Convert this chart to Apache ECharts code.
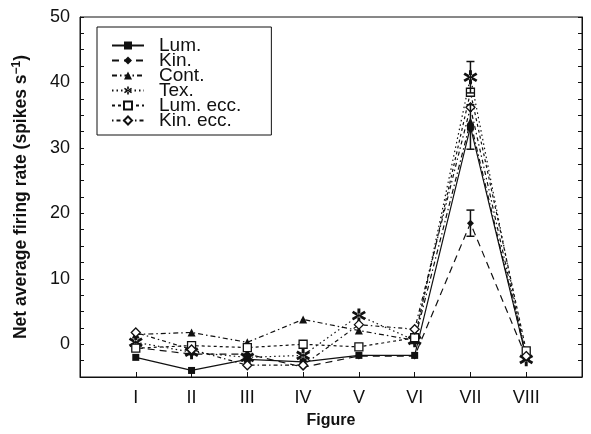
<!DOCTYPE html>
<html>
<head>
<meta charset="utf-8">
<script src="https://cdn.jsdelivr.net/npm/echarts@6/dist/echarts.min.js"></script>
<style>
  html, body { margin: 0; padding: 0; background: #fff; }
  #chart { width: 591px; height: 434px; }
</style>
</head>
<body>
<div id="chart"></div>
<script>
// figure positions 1..8 on the x axis
const figures = ['I', 'II', 'III', 'IV', 'V', 'VI', 'VII', 'VIII']

const lum = [-2.0, -4.0, -2.3, -2.7, -1.7, -1.7, 33.2, -2.0]
const kin = [-0.5, -1.5, -1.5, -3.5, -1.8, -1.8, 18.5, -2.0]
const cont = [1.5, 1.8, 0.3, 3.8, 2.1, 0.6, 34.0, -2.0]
const tex = [0.3, -1.2, -2.0, -1.7, 4.4, 0.6, 40.8, -2.3]
const lumEcc = [-0.6, -0.2, -0.5, 0.0, -0.4, 1.0, 38.5, -1.0]
const kinEcc = [1.8, -0.8, -3.2, -3.2, 3.0, 2.3, 36.2, -1.8]

// error bars at figure VII: [figure, low, high]
const errBars = [
  [7, 29.8, 36.6],
  [7, 38.4, 43.2],
  [7, 16.5, 20.5],
]

// asterisk marker (three bars)
const STAR =
  'path://M8 0L12 0L12 20L8 20Z M17.6 16.9L19.6 13.5L2.4 3.1L0.4 6.5Z M19.6 6.5L17.6 3.1L0.4 13.5L2.4 16.9Z'

function pts(arr) {
  return arr.map((v, i) => [i + 1, v])
}

function lineSeries(name, data, dash, symbol, size, filled) {
  return {
    name: name,
    type: 'line',
    data: pts(data),
    symbol: symbol,
    symbolSize: size,
    showAllSymbol: true,
    lineStyle: { color: '#111', width: 1.2, type: dash },
    itemStyle: {
      color: filled ? '#111' : '#fff',
      borderColor: '#111',
      borderWidth: filled ? 0 : 1.3,
    },
    z: 3,
  }
}

var myChart = echarts.init(document.getElementById('chart'))
var option = {
  animation: false,
  textStyle: { fontFamily: 'Liberation Sans, Arial, sans-serif', color: '#111' },
  grid: {
    left: 80,
    right: 9,
    top: 17,
    bottom: 54,
    show: true,
    borderColor: '#111',
    borderWidth: 1,
  },
  legend: {
    orient: 'vertical',
    left: 97,
    top: 27,
    padding: [9, 30, 5, 14],
    borderColor: '#111',
    borderWidth: 1,
    itemWidth: 32,
    itemHeight: 10,
    itemGap: -4,
    textStyle: {
      fontSize: 19,
      color: '#111',
      padding: [0, 0, 0, 10],
    },
    data: ['Lum.', 'Kin.', 'Cont.', 'Tex.', 'Lum. ecc.', 'Kin. ecc.'],
  },
  xAxis: {
    type: 'value',
    min: 0,
    max: 9,
    interval: 1,
    name: 'Figure',
    nameLocation: 'middle',
    nameGap: 36,
    nameTextStyle: { fontSize: 16, fontWeight: 'bold', color: '#111' },
    axisLine: { show: true, onZero: false, lineStyle: { color: '#111' } },
    axisTick: { show: true, inside: true, length: 5, lineStyle: { color: '#111' } },
    axisLabel: {
      fontSize: 18,
      color: '#111',
      margin: 12,
      formatter: (v) => figures[v - 1] || '',
    },
    splitLine: { show: false },
  },
  yAxis: [
    {
      type: 'value',
      min: -5,
      max: 50,
      interval: 5,
      name: 'Net average firing rate (spikes s{sup|−1})',
      nameLocation: 'middle',
      nameGap: 49,
      nameTextStyle: {
        fontSize: 17.5,
        fontWeight: 'bold',
        color: '#111',
        rich: { sup: { fontSize: 12, fontWeight: 'bold', verticalAlign: 'top', padding: [0, 0, 8, 0] } },
      },
      axisLine: { show: true, onZero: false, lineStyle: { color: '#111' } },
      axisTick: { show: true, inside: true, length: 4, lineStyle: { color: '#111' } },
      minorTick: { show: true, splitNumber: 2, length: 4, lineStyle: { color: '#111' } },
      axisLabel: {
        fontSize: 18,
        color: '#111',
        margin: 10,
        formatter: (v) => (v >= 0 && v % 10 === 0 ? String(v) : ''),
      },
      splitLine: { show: false },
    },
    {
      type: 'value',
      position: 'right',
      min: -5,
      max: 50,
      interval: 5,
      axisLine: { show: true, onZero: false, lineStyle: { color: '#111' } },
      axisTick: { show: true, inside: true, length: 4, lineStyle: { color: '#111' } },
      minorTick: { show: true, splitNumber: 2, length: 4, lineStyle: { color: '#111' } },
      axisLabel: { show: false },
      splitLine: { show: false },
    },
  ],
  series: [
    lineSeries('Lum.', lum, 'solid', 'rect', 7, true),
    lineSeries('Kin.', kin, [7, 5], 'diamond', 7, true),
    lineSeries('Cont.', cont, [5, 3, 1.5, 3], 'triangle', 8, true),
    lineSeries('Tex.', tex, [1.5, 3], STAR, 14, true),
    lineSeries('Lum. ecc.', lumEcc, [3, 3], 'rect', 8, false),
    lineSeries('Kin. ecc.', kinEcc, [1.5, 3, 4, 3], 'diamond', 9, false),
    {
      type: 'custom',
      data: errBars,
      z: 4,
      renderItem: function (params, api) {
        const lo = api.coord([api.value(0), api.value(1)])
        const hi = api.coord([api.value(0), api.value(2)])
        const w = 4
        const style = { stroke: '#111', lineWidth: 1.5 }
        return {
          type: 'group',
          children: [
            { type: 'line', shape: { x1: lo[0], y1: lo[1], x2: hi[0], y2: hi[1] }, style: style },
            { type: 'line', shape: { x1: lo[0] - w, y1: lo[1], x2: lo[0] + w, y2: lo[1] }, style: style },
            { type: 'line', shape: { x1: hi[0] - w, y1: hi[1], x2: hi[0] + w, y2: hi[1] }, style: style },
          ],
        }
      },
    },
  ],
}
myChart.setOption(option)
</script>
</body>
</html>
